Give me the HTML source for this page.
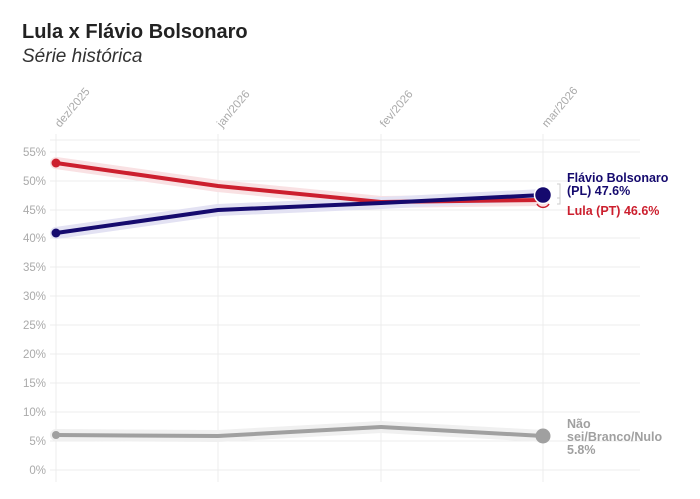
<!DOCTYPE html>
<html><head><meta charset="utf-8"><style>
body{margin:0;background:#fff;font-family:"Liberation Sans",sans-serif;}
</style></head><body>
<svg width="700" height="494" xmlns="http://www.w3.org/2000/svg" font-family="Liberation Sans, sans-serif">
<text x="22" y="38" font-size="20" font-weight="bold" fill="#222">Lula x Flávio Bolsonaro</text>
<text x="22" y="62" font-size="19" font-style="italic" fill="#333">Série histórica</text>
<g stroke="#ececec" stroke-width="1">
<line x1="50" y1="140" x2="640" y2="140"/>
<line x1="50" y1="152" x2="640" y2="152"/><line x1="50" y1="181" x2="640" y2="181"/>
<line x1="50" y1="210" x2="640" y2="210"/><line x1="50" y1="238" x2="640" y2="238"/>
<line x1="50" y1="267" x2="640" y2="267"/><line x1="50" y1="296" x2="640" y2="296"/>
<line x1="50" y1="325" x2="640" y2="325"/><line x1="50" y1="354" x2="640" y2="354"/>
<line x1="50" y1="383" x2="640" y2="383"/><line x1="50" y1="412" x2="640" y2="412"/>
<line x1="50" y1="441" x2="640" y2="441"/><line x1="50" y1="470" x2="640" y2="470"/>
<line x1="56" y1="134" x2="56" y2="482"/><line x1="218" y1="134" x2="218" y2="482"/>
<line x1="381" y1="134" x2="381" y2="482"/><line x1="543" y1="134" x2="543" y2="482"/>
</g>
<g font-size="11.5" fill="#aaa" text-anchor="end">
<text x="46" y="156">55%</text><text x="46" y="185">50%</text><text x="46" y="214">45%</text>
<text x="46" y="242">40%</text><text x="46" y="271">35%</text><text x="46" y="300">30%</text>
<text x="46" y="329">25%</text><text x="46" y="358">20%</text><text x="46" y="387">15%</text>
<text x="46" y="416">10%</text><text x="46" y="445">5%</text><text x="46" y="474">0%</text>
</g>
<g font-size="11.5" fill="#aaa">
<text transform="translate(60,128) rotate(-50)">dez/2025</text>
<text transform="translate(222,128) rotate(-50)">jan/2026</text>
<text transform="translate(385,128) rotate(-50)">fev/2026</text>
<text transform="translate(547,128) rotate(-50)">mar/2026</text>
</g>
<g fill="none" stroke-linejoin="round" stroke-linecap="round">
<polyline points="56,163 218,186 381,202 543,200" stroke="#f9e1e3" stroke-width="12"/>
<polyline points="56,233 218,210 381,203 543,195" stroke="#e3e2f3" stroke-width="12"/>
<polyline points="56,435 218,436 381,427 543,436" stroke="#f0f0f0" stroke-width="12"/>
<polyline points="56,163 218,186 381,202 543,200" stroke="#cc1f2e" stroke-width="4"/>
<polyline points="56,233 218,210 381,203 543,195" stroke="#150a6e" stroke-width="4"/>
<polyline points="56,435 218,436 381,427 543,436" stroke="#a0a0a0" stroke-width="4"/>
</g>
<circle cx="56" cy="163" r="4.5" fill="#cc1f2e"/>
<circle cx="56" cy="233" r="4.5" fill="#150a6e"/>
<circle cx="56" cy="435" r="4" fill="#a0a0a0"/>
<path d="M537,204 a7,7 0 0 0 12,0" fill="none" stroke="#cc1f2e" stroke-width="1.5"/>
<circle cx="543" cy="195" r="8.5" fill="#150a6e" stroke="#fff" stroke-width="1.5"/>
<circle cx="543" cy="436" r="7.5" fill="#a0a0a0"/>
<path d="M557,184 h3 v20 h-3 M557,198 h3" fill="none" stroke="#ccc" stroke-width="1"/>
<g font-size="12.5" font-weight="bold">
<text x="567" y="182" fill="#150a6e">Flávio Bolsonaro</text>
<text x="567" y="195" fill="#150a6e">(PL) 47.6%</text>
<text x="567" y="215" fill="#cc1f2e">Lula (PT) 46.6%</text>
<text x="567" y="428" fill="#a0a0a0">Não</text>
<text x="567" y="441" fill="#a0a0a0">sei/Branco/Nulo</text>
<text x="567" y="454" fill="#a0a0a0">5.8%</text>
</g>
</svg>
</body></html>
